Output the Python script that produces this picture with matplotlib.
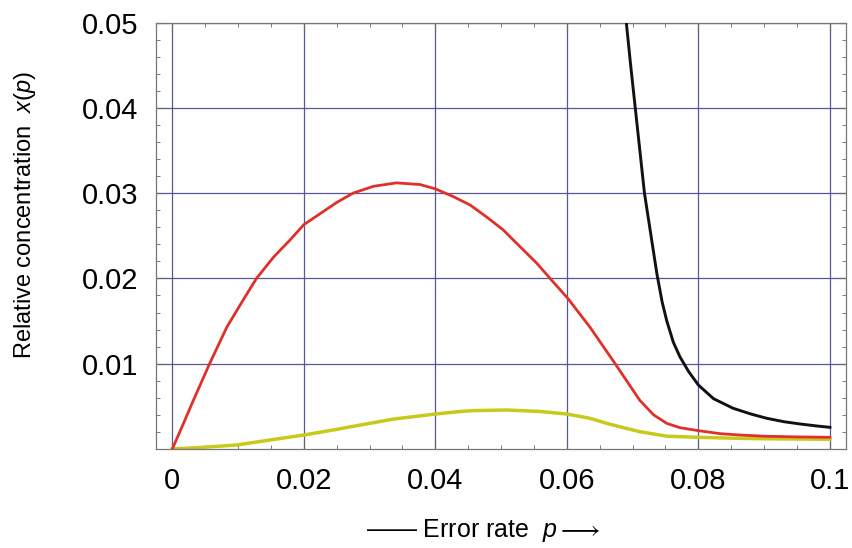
import matplotlib
matplotlib.use("Agg")
import matplotlib.pyplot as plt
from matplotlib.ticker import MultipleLocator, FixedLocator

plt.rcParams['font.family'] = ['Liberation Sans', 'DejaVu Sans']
plt.rcParams['mathtext.fontset'] = 'custom'
plt.rcParams['mathtext.rm'] = 'Liberation Sans'
plt.rcParams['mathtext.it'] = 'Liberation Sans:italic'

# Error rate p and relative concentrations
red_p = [0.0, 0.0017, 0.0032, 0.0057, 0.0083, 0.0108, 0.0128, 0.0154, 0.0179,
         0.0200, 0.0225, 0.0250, 0.0275, 0.0306, 0.0341, 0.0377, 0.0400,
         0.0427, 0.0453, 0.0478, 0.0503, 0.0529, 0.0554, 0.0579, 0.0601,
         0.0635, 0.0673, 0.0711, 0.0732, 0.0752, 0.0772, 0.0800, 0.0833,
         0.0863, 0.0900, 0.0950, 0.1000]
red_x = [0.0, 0.0030, 0.0057, 0.01005, 0.0143, 0.0175, 0.0200, 0.0225, 0.0245,
         0.0263, 0.0276, 0.0289, 0.0300, 0.0308, 0.0312, 0.0310, 0.0305,
         0.0296, 0.0286, 0.0272, 0.0257, 0.0237, 0.0218, 0.0196, 0.0177,
         0.0143, 0.01005, 0.0057, 0.0040, 0.0030, 0.0025, 0.00215, 0.0018,
         0.00164, 0.0015, 0.00142, 0.00137]

yellow_p = [0.0, 0.0047, 0.0098, 0.0149, 0.0200, 0.0250, 0.0285, 0.0336,
            0.0400, 0.0438, 0.0458, 0.0509, 0.0559, 0.0600, 0.0635, 0.0661,
            0.0686, 0.0711, 0.0752, 0.0800, 0.0863, 0.0900, 0.0950, 0.1000]
yellow_x = [0.0, 0.0002, 0.00047, 0.00106, 0.00164, 0.0023, 0.0028, 0.0035,
            0.0041, 0.0044, 0.0045, 0.00457, 0.0044, 0.0041, 0.0036, 0.0030,
            0.0025, 0.00203, 0.0015, 0.00137, 0.00125, 0.0012, 0.00117, 0.00114]

black_p = [0.0690, 0.0697, 0.0704, 0.0711, 0.0718, 0.0728, 0.0737, 0.0745,
           0.0752, 0.0762, 0.0772, 0.0785, 0.0800, 0.0823, 0.0853, 0.0880,
           0.0904, 0.0930, 0.0955, 0.0980, 0.1000]
black_x = [0.0503, 0.0450, 0.0400, 0.0350, 0.0300, 0.0250, 0.0205, 0.0172,
           0.0150, 0.0125, 0.0108, 0.0091, 0.0075, 0.0059, 0.00477, 0.0041,
           0.0036, 0.0032, 0.00293, 0.0027, 0.00254]

xticks = [0, 0.02, 0.04, 0.06, 0.08, 0.1]
xtick_labels = ['0', '0.02', '0.04', '0.06', '0.08', '0.1']
yticks = [0.01, 0.02, 0.03, 0.04, 0.05]
ytick_labels = ['0.01', '0.02', '0.03', '0.04', '0.05']

fig = plt.figure(figsize=(8.52, 5.48), dpi=100)
ax = fig.add_axes([156/852, 1-449/548, (846-156)/852, (449-22.5)/548])

ax.plot(black_p, black_x, color='#111111', lw=2.1, zorder=4)
ax.plot(red_p, red_x, color='#e0302c', lw=2.0, zorder=3)
ax.plot(yellow_p, yellow_x, color='#c9c91c', lw=2.5, zorder=2)

ax.set_xlim(-0.00248, 0.10245)
ax.set_ylim(0, 0.05)

ax.xaxis.set_major_locator(FixedLocator(xticks))
ax.set_xticklabels(xtick_labels)
ax.yaxis.set_major_locator(FixedLocator(yticks))
ax.set_yticklabels(ytick_labels)
ax.xaxis.set_minor_locator(MultipleLocator(0.005))
ax.yaxis.set_minor_locator(MultipleLocator(0.002))

ax.grid(True, which='major', color='#56569a', lw=0.9)
ax.set_axisbelow(True)

ax.tick_params(which='both', direction='in', top=True, right=True,
               color='#666666', labelsize=21, pad=13)
ax.tick_params(which='major', length=5, width=0.8)
ax.tick_params(which='minor', length=3, width=0.6)
for s in ax.spines.values():
    s.set_color('#777777')
    s.set_linewidth(0.9)

fig.text(25/852, 1-215/548, 'Relative concentration  $x$($p$)', fontsize=17,
         rotation=90, ha='center', va='center')
fig.text(483/852, 1-530/548, '—— Error rate  $p$$\\longrightarrow$', fontsize=18,
         ha='center', va='center')

fig.savefig('out.png', dpi=100)
